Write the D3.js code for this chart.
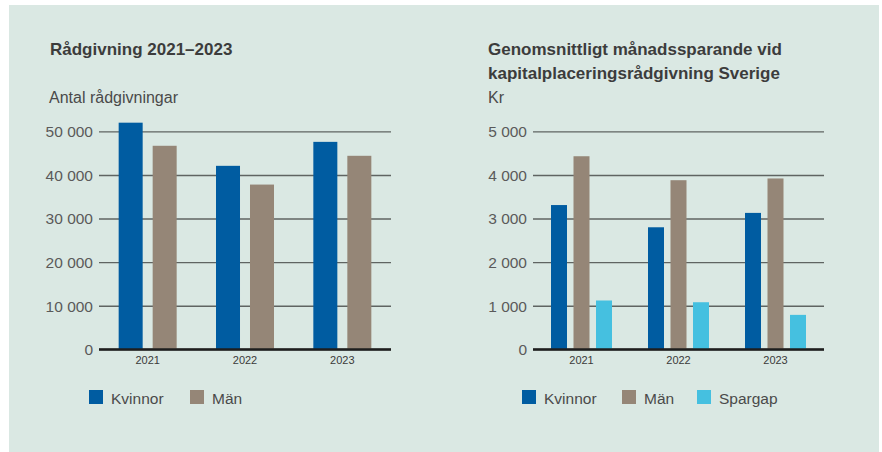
<!DOCTYPE html>
<html lang="sv">
<head>
<meta charset="utf-8">
<script src="https://cdn.jsdelivr.net/npm/d3@7"></script>
<style>
  html, body { margin: 0; padding: 0; background: #ffffff; }
  svg { display: block; font-family: "Liberation Sans", Arial, Helvetica, sans-serif; }
</style>
</head>
<body>
<svg id="chart" width="882" height="452"></svg>
<script>
// Rådgivning per år
const years = ["2021", "2022", "2023"];
const leftSeries = ["Kvinnor", "Män"];
const leftKvinnor = [52000, 42100, 47600];
const leftMan = [46700, 37800, 44400];
const leftTicks = [0, 10000, 20000, 30000, 40000, 50000];

// Genomsnittligt månadssparande (kr)
const rightSeries = ["Kvinnor", "Män", "Spargap"];
const rightKvinnor = [3310, 2800, 3130];
const rightMan = [4430, 3880, 3920];
const rightSpargap = [1120, 1080, 790];
const rightTicks = [0, 1000, 2000, 3000, 4000, 5000];

const colors = { "Kvinnor": "#005ca1", "Män": "#958677", "Spargap": "#45c0e0" };

const svg = d3.select("#chart");
const fmt = v => d3.format(",")(v).replace(/,/g, " ");

// panel background
svg.append("rect").attr("x", 9).attr("y", 5).attr("width", 870).attr("height", 447)
  .attr("fill", "#dae8e3");

function drawPanel(opts) {
  const g = svg.append("g");
  const x0 = d3.scaleBand().domain(years).range([opts.x0, opts.x1]).padding(0);
  const x1 = d3.scaleBand().domain(opts.series)
    .range([-opts.groupW / 2, opts.groupW / 2]).paddingInner(opts.inner);
  const y = d3.scaleLinear().domain([0, opts.max]).range([349.3, 131.4]);

  // gridlines + tick labels
  const axis = d3.axisLeft(y).tickValues(opts.ticks)
    .tickSize(-(opts.x1 - opts.x0)).tickPadding(6).tickFormat(fmt);
  const ag = g.append("g").attr("transform", `translate(${opts.x0},0)`).call(axis);
  ag.select(".domain").remove();
  ag.selectAll(".tick line").attr("stroke", "#5f6462").attr("stroke-width", 1.4);
  ag.selectAll(".tick text").attr("fill", "#5a5a5a").attr("font-size", 15.5)
    .attr("x", -6).attr("dy", "0.34em");
  ag.selectAll(".tick").filter(d => d === 0).select("line")
    .attr("stroke", "#1e1e1e").attr("stroke-width", 2);

  // bars
  opts.series.forEach((s, si) => {
    g.append("g").selectAll("rect").data(opts.values[si]).join("rect")
      .attr("x", (d, i) => x0(years[i]) + x0.bandwidth() / 2 + x1(s))
      .attr("width", x1.bandwidth())
      .attr("y", d => y(d))
      .attr("height", d => y(0) - y(d))
      .attr("fill", colors[s]);
  });
  // redraw baseline over bars
  g.append("line").attr("x1", opts.x0).attr("x2", opts.x1)
    .attr("y1", y(0)).attr("y2", y(0)).attr("stroke", "#1e1e1e").attr("stroke-width", 2);

  // year labels
  const xb = d3.axisBottom(x0).tickSize(0).tickPadding(0);
  const xg = g.append("g").attr("transform", `translate(0,${y(0)})`).call(xb);
  xg.select(".domain").remove();
  xg.selectAll(".tick text").attr("fill", "#3a3a3a").attr("font-size", 11)
    .attr("y", 14.5).attr("dy", 0);

  // titles
  opts.title.forEach((t, i) => {
    g.append("text").attr("x", opts.titleX).attr("y", 55 + i * 24)
      .attr("font-size", 17).attr("font-weight", "bold").attr("fill", "#3c3c3c").text(t);
  });
  g.append("text").attr("x", opts.unitX).attr("y", 103)
    .attr("font-size", 16).attr("fill", "#4a4a4a").text(opts.unit);

  // legend
  opts.series.forEach((s, i) => {
    const lx = opts.legendX[i];
    g.append("rect").attr("x", lx).attr("y", 390).attr("width", 14).attr("height", 14)
      .attr("fill", colors[s]);
    g.append("text").attr("x", lx + 22).attr("y", 404)
      .attr("font-size", 15.5).attr("fill", "#4a4a4a").text(s);
  });
}

drawPanel({
  x0: 99, x1: 391, groupW: 58, inner: 0.294, max: 50000,
  series: leftSeries, values: [leftKvinnor, leftMan], ticks: leftTicks,
  title: ["Rådgivning 2021–2023"], titleX: 50, unit: "Antal rådgivningar", unitX: 49,
  legendX: [89, 190]
});

drawPanel({
  x0: 533, x1: 824, groupW: 61, inner: 0.289, max: 5000,
  series: rightSeries, values: [rightKvinnor, rightMan, rightSpargap], ticks: rightTicks,
  title: ["Genomsnittligt månadssparande vid", "kapitalplaceringsrådgivning Sverige"],
  titleX: 488, unit: "Kr", unitX: 488,
  legendX: [522, 622, 697]
});
</script>
</body>
</html>
